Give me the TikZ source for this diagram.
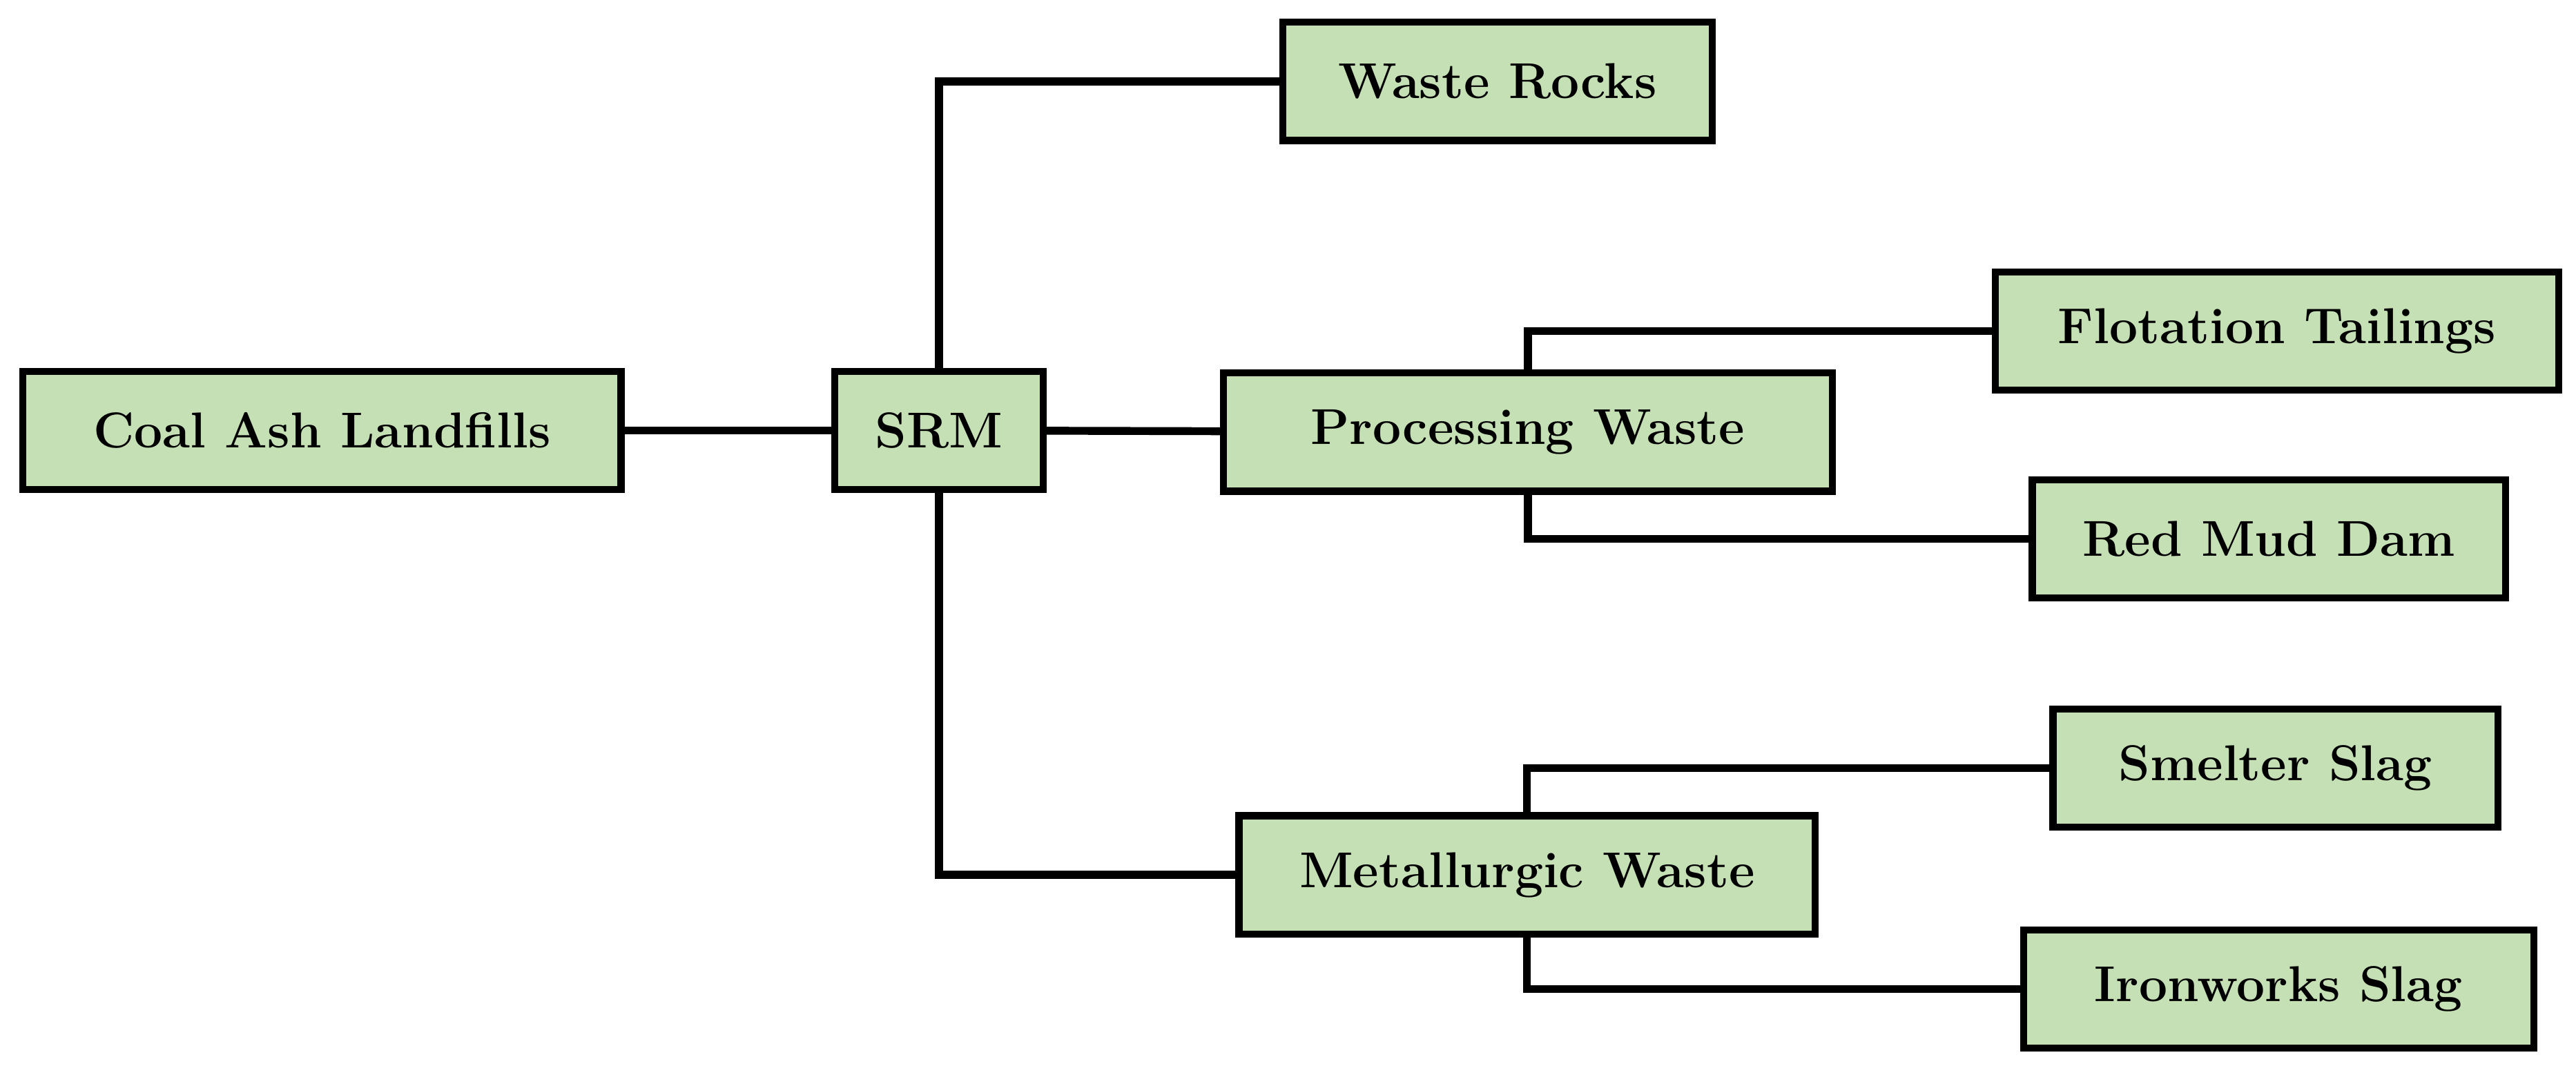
\documentclass[tikz,border=0pt]{standalone}
\usepackage{tikz}
\definecolor{boxgreen}{RGB}{197,224,180}
\begin{document}
\begin{tikzpicture}[x=0.75pt,y=0.75pt,yscale=-1,xscale=1,
  box/.style={draw=black,line width=3.2pt,fill=boxgreen,minimum height=54pt,inner sep=0pt,
    font=\fontsize{23}{27}\selectfont\bfseries},
  link/.style={line width=3.6pt}]
\useasboundingbox (0,0) rectangle (1568,654);
%Boxes
\node [box,minimum width=273pt] (coal) at (196,262) {Coal Ash Landfills};
\node [box,minimum width=95pt] (srm) at (571.5,262) {SRM};
\node [box,minimum width=196pt] (rocks) at (911.5,49.5) {Waste Rocks};
\node [box,minimum width=278pt] (proc) at (930,263) {Processing Waste};
\node [box,minimum width=257pt] (flot) at (1386,201.5) {Flotation Tailings};
\node [box,minimum width=216pt] (red) at (1381,328) {Red Mud Dam};
\node [box,minimum width=203pt] (smelt) at (1385,467.5) {Smelter Slag};
\node [box,minimum width=263pt] (metal) at (929.5,532.5) {Metallurgic Waste};
\node [box,minimum width=233pt] (iron) at (1387,602) {Ironworks Slag};
%Connectors
\draw [link] (coal) -- (srm);
\draw [link] (srm) -- (proc);
\draw [link] (srm.north) |- (rocks.west);
\draw [link] (srm.south) |- (metal.west);
\draw [link] (proc.north) |- (flot.west);
\draw [link] (proc.south) |- (red.west);
\draw [link] (metal.north) |- (smelt.west);
\draw [link] (metal.south) |- (iron.west);
\end{tikzpicture}
\end{document}
